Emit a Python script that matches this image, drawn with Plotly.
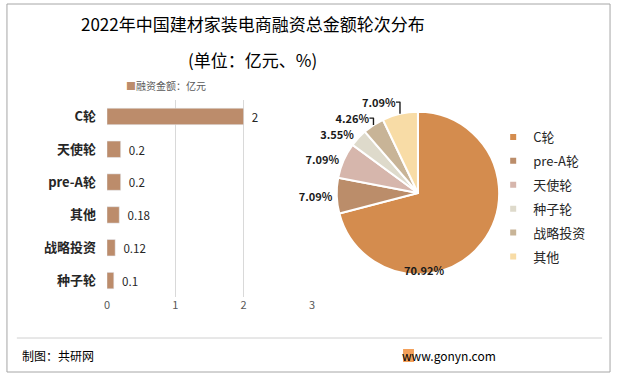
import plotly.graph_objects as go

W, H = 617, 376

# Data
bar_categories = ["C轮", "天使轮", "pre-A轮", "其他", "战略投资", "种子轮"]
bar_values = [2, 0.2, 0.2, 0.18, 0.12, 0.1]
bar_labels = ["2", "0.2", "0.2", "0.18", "0.12", "0.1"]
pie_labels = ["C轮", "pre-A轮", "天使轮", "种子轮", "战略投资", "其他"]
pie_values = [2, 0.2, 0.2, 0.1, 0.12, 0.2]
pie_text = ["70.92%", "7.09%", "7.09%", "3.55%", "4.26%", "7.09%"]
pie_colors = ["#D48C4E", "#BB8D6A", "#D6B6AC", "#DEDACB", "#C8B497", "#F8DCA6"]
x_ticks = [0, 1, 2, 3]
bar_color = "#BC8C6B"

FONT = "Noto Sans CJK SC"

def px(x):
    return x / W

def py(y):
    return 1 - y / H

fig = go.Figure()

fig.add_trace(go.Bar(
    x=bar_values, y=bar_categories, orientation="h",
    marker=dict(color=bar_color),
    text=bar_labels, texttemplate="&nbsp;&nbsp;%{text}", textposition="outside",
    textfont=dict(size=12, color="#262626", family=FONT),
    cliponaxis=False, showlegend=False,
    width=0.5,
))

# the large slice's label sits inside its edge in the reference; others outside
outside_text = [t if i > 0 else "" for i, t in enumerate(pie_text)]
fig.add_trace(go.Pie(
    labels=pie_labels, values=pie_values, text=outside_text,
    texttemplate="%{text}", textinfo="text",
    textposition="outside",
    textfont=dict(size=11, color="#1A1A1A", family=FONT, weight="bold"),
    marker=dict(colors=pie_colors, line=dict(color="white", width=2)),
    sort=False, direction="clockwise", rotation=0,
    domain=dict(x=[px(337), px(501)], y=[py(275), py(111)]),
    showlegend=False, automargin=False,
))

# legend entries for the pie slices
for lab, col in zip(pie_labels, pie_colors):
    fig.add_trace(go.Scatter(
        x=[None], y=[None], mode="markers", name=lab, legendgroup=lab,
        marker=dict(symbol="square", size=6, color=col), legend="legend2",
    ))

fig.update_layout(
    width=W, height=H,
    margin=dict(l=0, r=0, t=0, b=0),
    paper_bgcolor="white", plot_bgcolor="white",
    font=dict(family=FONT, color="#404040"),
    xaxis=dict(domain=[px(105), px(312)], range=[0, 3], tickvals=x_ticks,
               showgrid=True, gridcolor="#D9D9D9", gridwidth=1,
               zeroline=False, showline=False,
               tickfont=dict(size=11, color="#595959"), ticks=""),
    yaxis=dict(domain=[py(297), py(100)], autorange="reversed",
               showgrid=False, showline=False, zeroline=False,
               tickfont=dict(size=13, color="#262626", weight="bold"),
               ticks="", ticklabelstandoff=10),
    showlegend=True,
    legend2=dict(x=px(495), y=py(122), xanchor="left", yanchor="top",
                 font=dict(size=13, color="#262626"),
                 bgcolor="rgba(0,0,0,0)", itemwidth=30, tracegroupgap=4,
                 itemclick=False),
)

# Title
fig.add_annotation(x=px(252), y=py(24), xref="paper", yref="paper", yanchor="middle",
                   text="2022年中国建材家装电商融资总金额轮次分布", showarrow=False,
                   font=dict(size=17, color="#000000", family=FONT))
fig.add_annotation(x=px(252), y=py(60), xref="paper", yref="paper", yanchor="middle",
                   text="(单位：亿元、%)", showarrow=False,
                   font=dict(size=17, color="#000000", family=FONT))
# bar series legend
fig.add_annotation(x=px(122), y=py(86), xref="paper", yref="paper", xanchor="left", yanchor="middle",
                   text=f"<span style='color:{bar_color}'>■</span>融资金额：亿元", showarrow=False,
                   font=dict(size=10, color="#595959", family=FONT))
# label of the large pie slice
fig.add_annotation(x=px(448), y=py(270), xref="paper", yref="paper", yanchor="middle",
                   text=f"<b>{pie_text[0]}</b>", showarrow=False,
                   font=dict(size=11, color="#1A1A1A", family=FONT))

# Footer
fig.add_annotation(x=px(17), y=py(355), xref="paper", yref="paper", xanchor="left", yanchor="middle",
                   text="制图：共研网", showarrow=False,
                   font=dict(size=12, color="#000000", family=FONT))
fig.add_annotation(x=px(500), y=py(355), xref="paper", yref="paper", xanchor="right", yanchor="middle",
                   text="www.gonyn.com", showarrow=False,
                   font=dict(size=12, color="#000000", family=FONT))

shapes = [
    dict(type="rect", xref="paper", yref="paper", x0=px(4), x1=px(613), y0=py(372), y1=py(4),
         line=dict(color="#A6A6A6", width=1)),
    dict(type="line", xref="paper", yref="paper", x0=px(14), x1=px(605), y0=py(338), y1=py(338),
         line=dict(color="#D0D0D0", width=1)),
    dict(type="rect", xref="paper", yref="paper", x0=px(404), x1=px(415), y0=py(362), y1=py(349),
         fillcolor="#F3A05A", line=dict(width=0)),
]
fig.update_layout(shapes=shapes)

fig.write_html("out.html", config={"displayModeBar": False},
               post_script="document.body.style.margin='0';")
